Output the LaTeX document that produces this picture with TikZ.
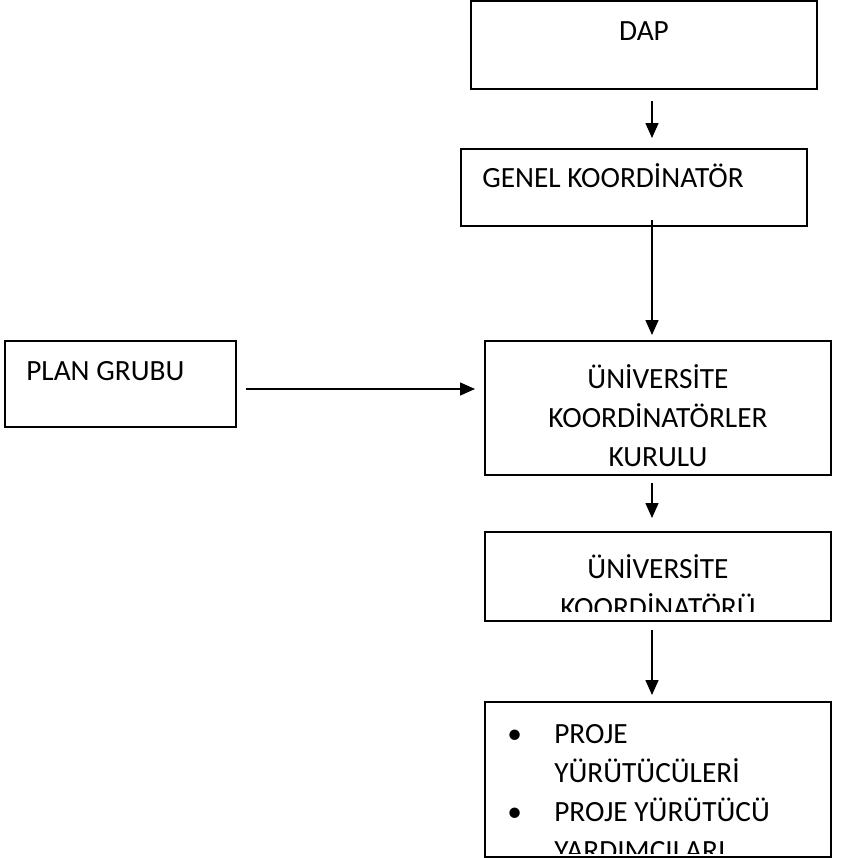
\documentclass[tikz,border=0pt]{standalone}
\usepackage{fontspec}
\setmainfont{Carlito}
\usetikzlibrary{arrows.meta, positioning}

\tikzset{
  kutu/.style={draw, rectangle, line width=1.6pt, inner sep=0pt, outer sep=0pt,
    anchor=north west, minimum width=259.5pt},
  yazi/.style={font=\fontsize{22}{29.25}\selectfont, inner sep=0pt},
  ok/.style={-{Triangle[length=11.25pt, width=9.75pt]}, line width=1.1pt}
}

\begin{document}
\begin{tikzpicture}[x=0.75pt, y=-0.75pt]
  \useasboundingbox (0,0) rectangle (843,858);
  \coordinate (eksen) at (652,0);

  % boxes
  \node (dap) [kutu, minimum height=66pt] at (471,1) {};
  \node (genel) [kutu, minimum height=57.75pt] at (461,149) {};
  \node (plan) [kutu, minimum width=173.25pt, minimum height=64.5pt] at (5,341) {};
  \node (kurul) [kutu, minimum height=100.5pt] at (485,341) {};
  \node (unikoord) [kutu, minimum height=66.75pt] at (485,532) {};
  \node (proje) [kutu, minimum height=116.25pt] at (485,702) {};

  % texts
  \node[yazi, anchor=base] at ([yshift=-29.25pt]dap.north) {DAP};
  \node[yazi, anchor=base west] at ([xshift=15.75pt, yshift=-28.5pt]genel.north west) {GENEL KOORDİNATÖR};
  \node[yazi, anchor=base west] at ([xshift=15.75pt, yshift=-29.25pt]plan.north west) {PLAN GRUBU};
  \node[yazi, anchor=base] at ([yshift=-35.25pt]kurul.north)
    {\begin{tabular}[t]{@{}c@{}}ÜNİVERSİTE\\KOORDİNATÖRLER\\KURULU\end{tabular}};
  \begin{scope}
    \clip (unikoord.north west) rectangle ([yshift=7.5pt]unikoord.south east);
    \node[yazi, anchor=base] at ([yshift=-34.5pt]unikoord.north)
      {\begin{tabular}[t]{@{}c@{}}ÜNİVERSİTE\\KOORDİNATÖRÜ\end{tabular}};
  \end{scope}
  \begin{scope}
    \clip (proje.north west) rectangle ([yshift=3pt]proje.south east);
    \node[yazi, anchor=base west] at ([xshift=16.5pt, yshift=-30.75pt]proje.north west)
      {\begin{tabular}[t]{@{}l@{}l@{}}
        \makebox[35.25pt][l]{•} & PROJE\\
        & YÜRÜTÜCÜLERİ\\
        \makebox[35.25pt][l]{•} & PROJE YÜRÜTÜCÜ\\
        & YARDIMCILARI
      \end{tabular}};
  \end{scope}

  % arrows
  \draw[ok, shorten <=9pt, shorten >=8.25pt] (dap.south -| eksen) -- (genel.north -| eksen);
  \draw[ok, shorten <=-4.5pt, shorten >=4.5pt] (genel.south -| eksen) -- (kurul.north -| eksen);
  \draw[ok, shorten <=7.5pt, shorten >=7.5pt] ([yshift=-3.75pt]plan.east) -- ([yshift=-3.75pt]plan.east -| kurul.west);
  \draw[ok, shorten <=6pt, shorten >=10.5pt] (kurul.south -| eksen) -- (unikoord.north -| eksen);
  \draw[ok, shorten <=6.75pt, shorten >=5.25pt] (unikoord.south -| eksen) -- (proje.north -| eksen);
\end{tikzpicture}
\end{document}
